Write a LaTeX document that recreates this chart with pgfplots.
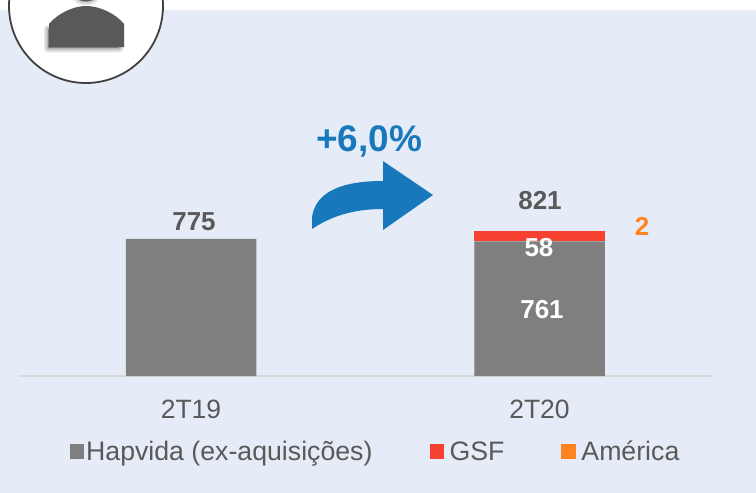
\documentclass[border=0pt]{standalone}
\usepackage{pgfplots}
\pgfplotsset{compat=1.18}
\usepackage{fontspec}
\setmainfont{Liberation Sans}
\definecolor{bg}{HTML}{E6ECF7}
\definecolor{barg}{HTML}{7F7F7F}
\definecolor{barr}{HTML}{F44130}
\definecolor{baro}{HTML}{FF8420}
\definecolor{arrowb}{HTML}{1878BC}
\definecolor{txt}{HTML}{595959}
\definecolor{axl}{HTML}{D9D9D9}
\pgfplotsset{wideimg/.style={legend image code/.code={\fill[##1] (0pt,-7.5pt) rectangle (14.5pt,7.5pt);\path (18pt,0pt);}}}
\begin{document}
\begin{tikzpicture}[x=1pt,y=-1pt]
\path[use as bounding box] (0,0) rectangle (756,493);
\clip (0,0) rectangle (756,493);
\fill[white] (0,0) rectangle (756,493);
\fill[bg] (0,10) rectangle (756,493);
% badge
\fill[white] (86,6) circle (77);
\draw[color=black!75,line width=1.8pt] (86,6) circle (77);
\foreach \w in {9,7.5,6,4.5,3,1.5}{
  \draw[black,opacity=0.05,line width=\w pt,line join=round,fill=black,fill opacity=0.05,xshift=-3pt,yshift=-3pt]
   (51,45) -- (51,26) -- (122,26) -- (122,45) -- cycle;
  \fill[black,opacity=0.04] (86,-3) ellipse ({9+\w/2} and {4.5+\w/2});
}
\fill[black!65] (49,47) -- (49,24) .. controls (58,13) and (74,6) .. (86,6) .. controls (100,6) and (116,14) .. (124,24) -- (124,47) -- cycle;
\fill[black!65] (86,-3) ellipse (9 and 4.5);
\begin{axis}[
  at={(18pt,-376pt)},anchor=south west,
  scale only axis,width=695pt,height=276pt,
  xmin=-0.4964,xmax=1.4978,ymin=0,ymax=1561,
  ybar stacked,bar width=130.5pt,
  axis y line=none,axis x line=bottom,
  axis x line*=bottom,
  x axis line style={axl,line width=1.4pt,-},
  xtick={0,1},xticklabels={2T19,2T20},
  major tick length=0pt,
  xticklabel style={font=\fontsize{26.5}{30}\selectfont,text=txt,yshift=-20pt},
  clip=false,
  legend columns=3,
  legend style={at={(0.5144,-0.2735)},anchor=center,draw=none,fill=none,
    font=\fontsize{26.7}{30}\selectfont,text=txt,
    /tikz/every even column/.append style={column sep=55pt}},
  legend image code/.code={\fill[#1] (0pt,-7.5pt) rectangle (14.5pt,7.5pt);},
]
\addplot[draw=none,fill=barg] coordinates {(0,775) (1,761)};
\addlegendentry{Hapvida (ex-aquisições)}
\addplot[draw=none,fill=barr,wideimg] coordinates {(0,0) (1,58)};
\addlegendentry{GSF}
\addplot[draw=none,fill=baro,wideimg] coordinates {(0,0) (1,2)};
\addlegendentry{América}
\end{axis}
% arrow
\fill[arrowb] (312,229) -- (312,217) .. controls (316,190) and (345,181) .. (383,181) -- (383,161) -- (433,195) -- (383,230) -- (383,209) .. controls (352,209) and (330,217) .. (312,229) -- cycle;
% labels
\node[text=arrowb,font=\fontsize{37}{40}\selectfont\bfseries] at (369,141.5) {+6,0\%};
\node[text=txt,font=\fontsize{26}{30}\selectfont\bfseries] at (194,221.5) {775};
\node[text=txt,font=\fontsize{26}{30}\selectfont\bfseries] at (540,201) {821};
\node[text=white,font=\fontsize{26}{30}\selectfont\bfseries] at (539,248) {58};
\node[text=white,font=\fontsize{26}{30}\selectfont\bfseries] at (542,310) {761};
\node[text=baro,font=\fontsize{26}{30}\selectfont\bfseries] at (642,226) {2};
\end{tikzpicture}
\end{document}
